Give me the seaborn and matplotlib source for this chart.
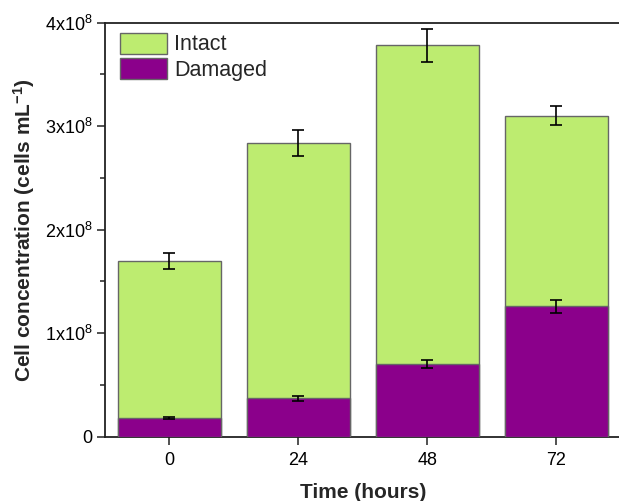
import matplotlib
matplotlib.use("Agg")
import matplotlib.pyplot as plt
import seaborn as sns
import numpy as np
from matplotlib.ticker import FuncFormatter, MultipleLocator
from matplotlib.patches import Patch

# Data (cells per mL)
times = ["0", "24", "48", "72"]
total_cells = [1.70e8, 2.84e8, 3.78e8, 3.10e8]
total_err = [0.078e8, 0.124e8, 0.155e8, 0.093e8]
damaged_cells = [0.178e8, 0.371e8, 0.70e8, 1.26e8]
damaged_err = [0.010e8, 0.024e8, 0.037e8, 0.063e8]
series_labels = ["Intact", "Damaged"]

green = "#BDEC70"
purple = "#8B008B"
edge = "#666666"

sns.set_style("ticks")
plt.rcParams["font.family"] = ["Liberation Sans", "DejaVu Sans"]
plt.rcParams["mathtext.fontset"] = "custom"
plt.rcParams["mathtext.rm"] = "Liberation Sans"
plt.rcParams["mathtext.it"] = "Liberation Sans:italic"
plt.rcParams["mathtext.bf"] = "Liberation Sans:bold"

fig = plt.figure(figsize=(6.19, 5.01), dpi=100)
ax = fig.add_axes([105 / 619, (501 - 436.7) / 501, 516 / 619, 414 / 501])

sns.barplot(x=times, y=total_cells, color=green, saturation=1, width=0.8,
            edgecolor=edge, linewidth=1.0, errorbar=None, ax=ax, zorder=2)
sns.barplot(x=times, y=damaged_cells, color=purple, saturation=1, width=0.8,
            edgecolor=edge, linewidth=1.0, errorbar=None, ax=ax, zorder=3)

xpos = np.arange(len(times))
ax.errorbar(xpos, total_cells, yerr=total_err, fmt="none", ecolor="black",
            elinewidth=1.2, capsize=4.5, capthick=1.2, zorder=5)
ax.errorbar(xpos, damaged_cells, yerr=damaged_err, fmt="none", ecolor="black",
            elinewidth=1.2, capsize=4.5, capthick=1.2, zorder=5)

ax.set_xlim(-0.5, 3.5)
ax.set_ylim(0, 4e8)
ax.yaxis.set_major_locator(MultipleLocator(1e8))
ax.yaxis.set_minor_locator(MultipleLocator(0.5e8))


def fmt(v, pos):
    n = int(round(v / 1e8))
    if n == 0:
        return "0"
    return f"{n}x10$^{{8}}$"


ax.yaxis.set_major_formatter(FuncFormatter(fmt))

for s in ["left", "bottom", "top", "right"]:
    ax.spines[s].set_visible(True)
    ax.spines[s].set_linewidth(1.3)
    ax.spines[s].set_color("#222222")

ax.tick_params(axis="y", which="major", direction="out", length=6, width=1.1,
               labelsize=13, colors="#222222", labelcolor="black", pad=3)
ax.tick_params(axis="y", which="minor", direction="out", length=3.6, width=1.1,
               colors="#222222")
ax.tick_params(axis="x", which="major", direction="out", length=6, width=1.1,
               labelsize=13, colors="#222222", labelcolor="black", pad=5)

ax.set_xlabel("Time (hours)", fontsize=15, fontweight="bold", labelpad=10)
ax.set_ylabel("Cell concentration (cells mL$^{\\mathbf{-1}}$)", fontsize=15,
              fontweight="bold", labelpad=6)

handles = [Patch(facecolor=green, edgecolor=edge, linewidth=1.0),
           Patch(facecolor=purple, edgecolor=edge, linewidth=1.0)]
ax.legend(handles, series_labels, loc="upper left", frameon=False, fontsize=15.5,
          handlelength=2.2, handleheight=1.12, handletextpad=0.3,
          labelspacing=0.12, borderpad=0.0, borderaxespad=0.0,
          bbox_to_anchor=(15 / 516, 1 - 10 / 414))

fig.savefig("out.png", dpi=100)
